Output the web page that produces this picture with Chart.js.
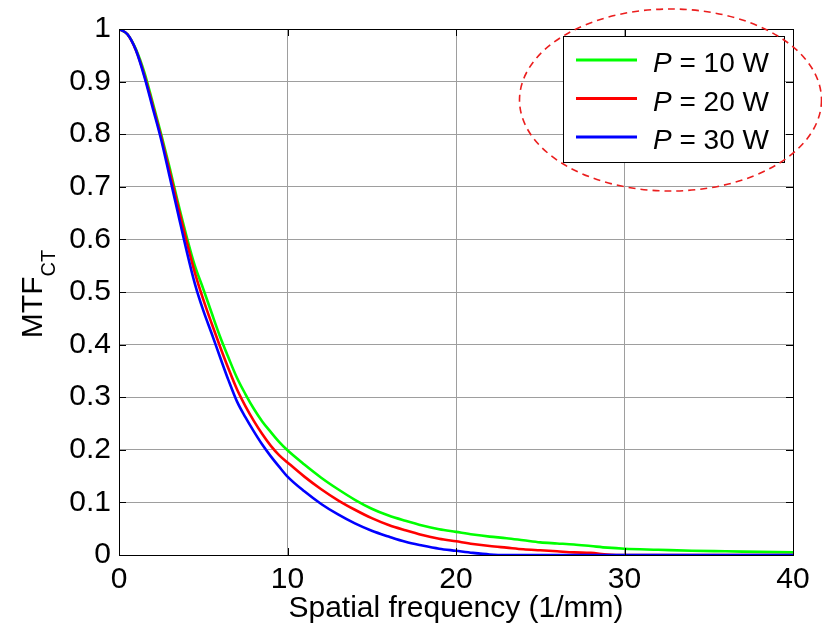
<!DOCTYPE html>
<html>
<head>
<meta charset="utf-8">
<script src="https://cdn.jsdelivr.net/npm/chart.js@4/dist/chart.umd.min.js"></script>
<style>
  body { margin: 0; background: #fff; }
  #wrap { width: 822px; height: 627px; }
</style>
</head>
<body>
<div id="wrap"><canvas id="mtfChart" width="822" height="627"></canvas></div>
<script>
const freq = [0, 0.5, 1, 1.5, 2, 2.5, 3, 3.5, 4, 4.5, 5, 5.5, 6, 6.5, 7, 7.5, 8, 8.5, 9, 9.5, 10,
    11, 12, 13, 14, 15, 16, 17, 18, 19, 20, 21, 22, 23, 24, 25, 26, 27, 28, 29, 30,
    32, 34, 36, 38, 40];

const mtf10 = [1, 0.99, 0.962, 0.918, 0.86, 0.80, 0.737, 0.67, 0.607, 0.55, 0.506, 0.46, 0.415, 0.375, 0.337, 0.306, 0.278, 0.254, 0.234, 0.215, 0.199,
    0.172, 0.147, 0.125, 0.105, 0.088, 0.075, 0.065, 0.056, 0.049, 0.044, 0.039, 0.035, 0.032, 0.028, 0.024, 0.022, 0.020, 0.017, 0.014, 0.012,
    0.010, 0.008, 0.007, 0.006, 0.005];
const mtf20 = [1, 0.99, 0.96, 0.913, 0.855, 0.795, 0.73, 0.663, 0.598, 0.537, 0.486, 0.44, 0.396, 0.354, 0.315, 0.283, 0.255, 0.23, 0.208, 0.19, 0.176,
    0.149, 0.125, 0.104, 0.086, 0.070, 0.057, 0.047, 0.038, 0.031, 0.026, 0.021, 0.017, 0.014, 0.011, 0.009, 0.007, 0.005, 0.004, 0.001, 0,
    0, 0, 0, 0, 0];
const mtf30 = [1, 0.99, 0.96, 0.91, 0.85, 0.79, 0.72, 0.65, 0.58, 0.516, 0.465, 0.421, 0.376, 0.332, 0.292, 0.262, 0.235, 0.21, 0.188, 0.168, 0.149,
    0.121, 0.097, 0.077, 0.060, 0.046, 0.035, 0.025, 0.018, 0.012, 0.008, 0.004, 0.001, 0, 0, 0, 0, 0, 0, 0, 0,
    0, 0, 0, 0, 0];

const powers = [10, 20, 30];
const seriesColors = ['#00ff00', '#ff0000', '#0000ff'];
const series = [mtf10, mtf20, mtf30];

const xTicks = [0, 10, 20, 30, 40];
const FONT = "'Liberation Sans', Arial, sans-serif";

// MATLAB style box with inward ticks
const boxPlugin = {
    id: 'boxPlugin',
    afterDatasetsDraw(chart) {
        const { ctx, chartArea: a, scales } = chart;
        ctx.save();
        ctx.strokeStyle = '#000';
        ctx.lineWidth = 1;
        ctx.beginPath();
        scales.x.ticks.forEach(t => {
            const px = Math.round(scales.x.getPixelForValue(t.value)) + 0.5;
            ctx.moveTo(px, a.bottom); ctx.lineTo(px, a.bottom - 7);
            ctx.moveTo(px, a.top); ctx.lineTo(px, a.top + 7);
        });
        scales.y.ticks.forEach(t => {
            const py = Math.round(scales.y.getPixelForValue(t.value)) + 0.5;
            ctx.moveTo(a.left, py); ctx.lineTo(a.left + 7, py);
            ctx.moveTo(a.right, py); ctx.lineTo(a.right - 7, py);
        });
        ctx.stroke();
        ctx.strokeRect(Math.round(a.left) + 0.5, Math.round(a.top) + 0.5,
            Math.round(a.right - a.left), Math.round(a.bottom - a.top));
        ctx.restore();
    }
};

// y title with subscript, legend and the dashed ellipse
const overlayPlugin = {
    id: 'overlayPlugin',
    afterDraw(chart) {
        const ctx = chart.ctx;
        ctx.save();

        // y axis title MTF_CT
        ctx.fillStyle = '#000';
        ctx.textBaseline = 'alphabetic';
        ctx.font = '30px ' + FONT;
        const wMain = ctx.measureText('MTF').width;
        ctx.font = '20px ' + FONT;
        const wSub = ctx.measureText('CT').width;
        ctx.translate(42, 294);
        ctx.rotate(-Math.PI / 2);
        const x0 = -(wMain + wSub) / 2;
        ctx.font = '30px ' + FONT;
        ctx.fillText('MTF', x0, 0);
        ctx.font = '20px ' + FONT;
        ctx.fillText('CT', x0 + wMain, 13);
        ctx.setTransform(1, 0, 0, 1, 0, 0);

        // legend box
        const lx = 563, ly = 36, lw = 221, lh = 126;
        ctx.fillStyle = '#fff';
        ctx.fillRect(lx, ly, lw, lh);
        ctx.strokeStyle = '#000';
        ctx.lineWidth = 1;
        ctx.strokeRect(lx + 0.5, ly + 0.5, lw, lh);
        chart.data.datasets.forEach((ds, i) => {
            const y = 60 + i * 38.5;
            ctx.strokeStyle = ds.borderColor;
            ctx.lineWidth = 3;
            ctx.beginPath();
            ctx.moveTo(576, y);
            ctx.lineTo(637, y);
            ctx.stroke();
            ctx.fillStyle = '#000';
            ctx.font = 'italic 28px ' + FONT;
            ctx.fillText('P', 653, y + 12);
            const wp = ctx.measureText('P').width;
            ctx.font = '28px ' + FONT;
            ctx.fillText(' = ' + powers[i] + ' W', 653 + wp, y + 12);
        });

        // dashed ellipse around the legend
        ctx.strokeStyle = 'rgb(235,30,30)';
        ctx.lineWidth = 1.6;
        ctx.setLineDash([7, 5]);
        ctx.beginPath();
        ctx.ellipse(670.5, 100, 151, 91, 0, 0, Math.PI * 2);
        ctx.stroke();
        ctx.restore();
    }
};

const datasets = series.map((vals, i) => ({
    label: 'P = ' + powers[i] + ' W',
    data: freq.map((f, k) => ({ x: f, y: vals[k] })),
    borderColor: seriesColors[i],
    backgroundColor: seriesColors[i],
    borderWidth: 2.6,
    pointRadius: 0,
    cubicInterpolationMode: 'monotone',
    fill: false,
    order: powers.length - i
}));

new Chart(document.getElementById('mtfChart'), {
    type: 'line',
    data: { datasets },
    options: {
        responsive: false,
        devicePixelRatio: 1,
        animation: false,
        layout: { padding: { top: 29, right: 29, left: 0, bottom: 0 } },
        plugins: { legend: { display: false }, tooltip: { enabled: false } },
        scales: {
            x: {
                type: 'linear',
                min: 0, max: 40,
                afterBuildTicks: s => { s.ticks = xTicks.map(v => ({ value: v })); },
                afterFit: s => { s.height = 72; },
                ticks: { color: '#000', font: { family: FONT, size: 30 }, padding: 7, maxRotation: 0 },
                grid: { color: '#9e9e9e', lineWidth: 1, drawTicks: false },
                border: { color: '#000' },
                title: {
                    display: true,
                    text: 'Spatial frequency (1/mm)',
                    color: '#000',
                    font: { family: FONT, size: 30 },
                    padding: { top: 0, bottom: 0 }
                }
            },
            y: {
                min: 0, max: 1,
                afterFit: s => { s.width = 119; },
                ticks: {
                    stepSize: 0.1, color: '#000', font: { family: FONT, size: 30 }, padding: 8,
                    callback: v => String(Number(v.toFixed(2)))
                },
                grid: { color: '#9e9e9e', lineWidth: 1, drawTicks: false },
                border: { color: '#000' }
            }
        }
    },
    plugins: [boxPlugin, overlayPlugin]
});
</script>
</body>
</html>
